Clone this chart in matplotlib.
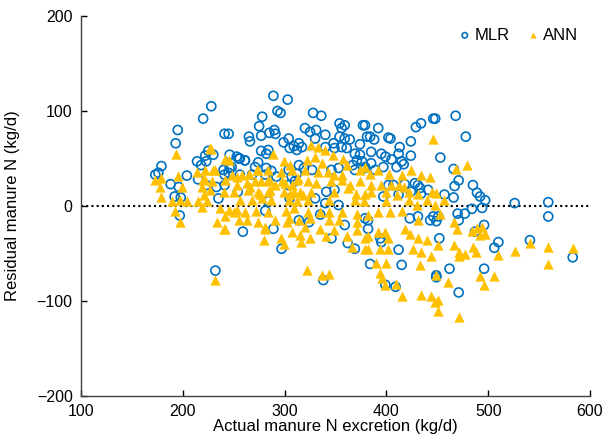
import matplotlib
matplotlib.use("Agg")
import matplotlib.pyplot as plt

plt.rcParams["font.family"] = ["Liberation Sans", "DejaVu Sans"]

BLUE = "#0070C0"
GOLD = "#FFC000"

# MLR residuals (actual N excretion, residual)
mlr_pts = [
    (228, 105), (220, 92), (195, 80), (193, 66), (241, 76), (179, 42), (176, 35), (188, 23),
    (204, 32), (214, 47), (222, 53), (225, 58), (230, 54), (218, 43), (223, 47), (240, 38),
    (241, 33), (215, 28), (223, 22), (233, 20), (196, 20), (192, 10), (198, 9), (197, -10),
    (235, 8), (232, -68), (173, 33), (246, 40), (255, 50), (261, 48),
    (289, 116), (303, 112), (278, 94), (293, 100), (296, 98), (275, 84), (277, 74), (265, 73),
    (266, 68), (245, 76), (285, 77), (290, 80), (291, 76), (299, 67), (304, 71), (309, 63),
    (305, 61), (277, 58), (282, 55), (284, 59), (246, 54), (253, 52), (256, 50), (261, 48),
    (274, 46), (282, 40), (271, 41), (248, 41), (245, 35), (256, 33), (268, 33), (281, 33),
    (287, 37), (292, 31), (304, 38), (307, 31), (310, 26), (304, 22), (254, 15), (284, 5),
    (305, 8), (281, -5), (259, -27), (289, -24), (297, -45), (241, 22),
    (328, 98), (336, 95), (354, 87), (359, 85), (356, 82), (377, 85), (320, 82), (325, 78),
    (331, 80), (340, 75), (330, 71), (354, 73), (359, 71), (364, 70), (374, 65), (381, 73),
    (314, 66), (317, 62), (312, 59), (340, 62), (348, 66), (349, 61), (356, 62), (361, 61),
    (369, 55), (374, 54), (371, 48), (376, 47), (379, 41), (367, 43), (369, 38), (314, 43),
    (319, 40), (312, 34), (327, 38), (346, 38), (353, 40), (341, 15), (349, 17), (330, 8),
    (340, 3), (353, 1), (335, -9), (314, -15), (324, -17), (379, -13), (359, -20), (346, -34),
    (362, -39), (369, -45), (338, -78),
    (446, 92), (434, 87), (429, 83), (392, 82), (379, 85), (384, 73), (388, 70), (402, 72),
    (404, 71), (424, 68), (413, 62), (385, 57), (395, 55), (412, 55), (424, 53), (399, 52),
    (405, 49), (415, 47), (417, 44), (410, 41), (385, 45), (397, 41), (379, 40), (389, 38),
    (418, 23), (428, 24), (431, 22), (433, 19), (441, 17), (424, 15), (434, 13), (402, 22),
    (407, 22), (412, 12), (446, -11), (443, -15), (382, -15), (423, -13), (431, -11), (394, -34),
    (395, -38), (412, -46), (384, -61), (415, -62), (399, -83), (409, -85), (449, -73), (397, 10),
    (382, -24),
    (468, 95), (448, 92), (478, 73), (453, 51), (466, 39), (471, 27), (467, 21), (466, 9),
    (457, 12), (485, 22), (489, 14), (492, 10), (497, 6), (494, -2), (484, -3), (477, -8),
    (470, -8), (471, -15), (451, -11), (449, -16), (496, -20), (487, -27), (510, -38), (506, -44),
    (452, -34), (462, -66), (496, -66), (471, -91), (449, -75),
    (526, 3), (559, 4), (559, -11), (541, -36), (583, -54),
]

# ANN residuals
ann_pts = [
    (193, 55), (228, 60), (241, 49), (195, 32), (179, 29), (173, 27), (178, 20), (199, 20),
    (179, 9), (189, 5), (197, 6), (204, 5), (192, -5), (197, -17), (215, 5), (219, -1),
    (224, 5), (214, 36), (222, 38), (232, 38), (221, 29), (229, 26), (219, 20), (227, 17),
    (221, 12), (240, 15), (234, -17), (241, -11), (240, -24), (232, -78), (237, -2),
    (227, 61), (230, 38), (220, 27), (253, 31), (266, 20), (273, 38), (276, 13), (284, 27),
    (286, 17), (297, 26), (305, 13), (312, 27), (250, -6), (263, -15), (281, -22), (302, -17),
    (289, 55), (299, 47), (305, 43), (307, 38), (245, 48), (274, 38), (284, 38), (296, 36),
    (248, 33), (258, 33), (265, 34), (241, 27), (253, 22), (263, 24), (271, 26), (277, 26),
    (286, 26), (291, 22), (300, 24), (307, 22), (250, 15), (264, 17), (274, 15), (284, 15),
    (299, 15), (309, 15), (256, 6), (268, 6), (278, 8), (287, 6), (304, 6), (245, -4),
    (253, -4), (261, -6), (272, -5), (284, -6), (301, -5), (309, -2), (255, -15), (274, -17),
    (291, -15), (304, -13), (241, -24), (281, -24), (307, -27), (280, -36), (296, -34), (299, -40),
    (326, 64), (333, 62), (340, 59), (330, 52), (322, 48), (337, 45), (357, 50), (361, 43),
    (348, 54), (320, 38), (333, 36), (343, 36), (349, 33), (356, 33), (374, 38), (379, 41),
    (313, 29), (323, 26), (331, 24), (346, 26), (356, 27), (364, 22), (374, 26), (315, 15),
    (326, 15), (318, 12), (349, 15), (362, 19), (370, 13), (379, 13), (312, 5), (323, 6),
    (344, 6), (369, 6), (378, 5), (323, -6), (335, -6), (344, -6), (356, -6), (371, -8),
    (314, -15), (325, -13), (344, -15), (353, -15), (371, -17), (320, -22), (335, -24), (349, -25),
    (371, -25), (315, -31), (325, -34), (341, -32), (361, -32), (379, -34), (316, -38), (366, -43),
    (379, -45), (322, -67), (337, -73), (344, -72),
    (446, 71), (424, 38), (434, 33), (443, 31), (415, 33), (403, 34), (392, 38), (384, 34),
    (385, 22), (395, 22), (405, 22), (412, 22), (417, 20), (385, 15), (400, 15), (410, 12),
    (422, 15), (431, 13), (445, 15), (400, 5), (422, 6), (440, 6), (430, 1), (448, 1),
    (392, -6), (404, -6), (415, -5), (382, -9), (431, -15), (382, -32), (392, -27), (399, -27),
    (402, -34), (418, -24), (423, -29), (431, -34), (440, -36), (382, -45), (394, -45), (402, -45),
    (426, -45), (434, -48), (444, -53), (433, -62), (390, -60), (400, -60), (394, -71), (396, -76),
    (399, -83), (409, -82), (415, -95), (434, -94), (444, -95), (448, -101),
    (479, 43), (468, 39), (449, 14), (457, 6), (453, -8), (466, -17), (469, -24), (484, -26),
    (489, -23), (494, -22), (497, -29), (492, -31), (451, -41), (466, -41), (471, -48), (471, -53),
    (477, -50), (485, -43), (488, -48), (510, -52), (449, -73), (461, -80), (492, -74), (496, -83),
    (506, -74), (451, -99), (451, -110), (471, -117),
    (526, -47), (541, -39), (559, -43), (559, -61), (583, -44),
]

mlr_x = [p[0] for p in mlr_pts]
mlr_y = [p[1] for p in mlr_pts]
ann_x = [p[0] for p in ann_pts]
ann_y = [p[1] for p in ann_pts]

fig = plt.figure(figsize=(6.11, 4.41), dpi=100)
ax = fig.add_axes([81 / 611, 45 / 441, 509 / 611, 380 / 441])

ax.axhline(0, color="black", linestyle=(0, (1, 1.5)), linewidth=1.5, zorder=1)

ax.scatter(mlr_x, mlr_y, s=42, facecolors="none", edgecolors=BLUE,
           linewidths=1.2, marker="o", label="MLR", zorder=2)
ax.scatter(ann_x, ann_y, s=55, color=GOLD, marker="^",
           linewidths=0, label="ANN", zorder=3)

ax.set_xlim(100, 600)
ax.set_ylim(-200, 200)
ax.set_xticks([100, 200, 300, 400, 500, 600])
ax.set_yticks([-200, -100, 0, 100, 200])
ax.set_xlabel("Actual manure N excretion (kg/d)", fontsize=12, labelpad=0)
ax.set_ylabel("Residual manure N (kg/d)", fontsize=12, labelpad=12)

ax.tick_params(direction="in", length=4, width=1, labelsize=11.5, colors="black",
               pad=6)
for side in ("top", "right"):
    ax.spines[side].set_visible(False)
for side in ("left", "bottom"):
    ax.spines[side].set_color("#404040")
    ax.spines[side].set_linewidth(1)

ax.legend(loc="upper right", bbox_to_anchor=(1.0, 1.0), ncol=2, frameon=False,
          fontsize=12, markerscale=0.6, handletextpad=0.1, columnspacing=0.9,
          handlelength=1.0, borderaxespad=0.3)

fig.savefig("out.png", dpi=100)
